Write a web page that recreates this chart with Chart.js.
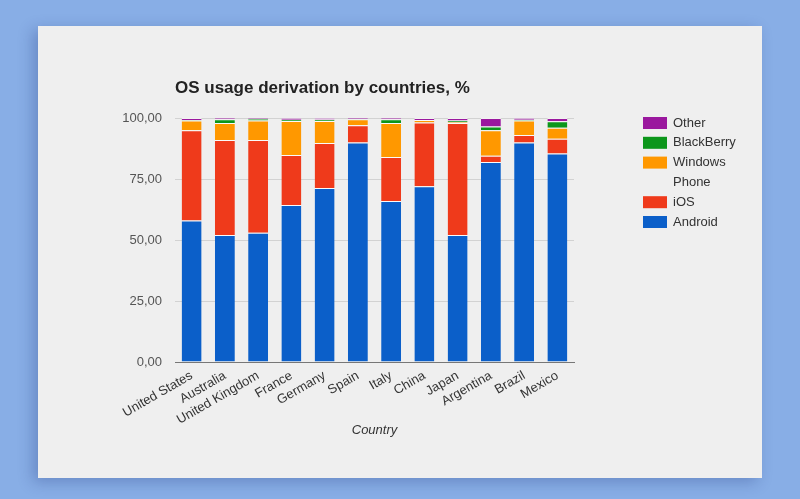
<!DOCTYPE html>
<html>
<head>
<meta charset="utf-8">
<script src="https://cdn.jsdelivr.net/npm/chart.js@4"></script>
<style>
  html, body { margin: 0; padding: 0; }
  body { width: 800px; height: 499px; background: #88aee6; position: relative; overflow: hidden; }
  .card { position: absolute; left: 38px; top: 26px; width: 724px; height: 452px; background: #efefef;
          box-shadow: -5px 4px 14px rgba(20, 40, 110, 0.28); }
</style>
</head>
<body>
<div class="card"><canvas id="myChart" width="724" height="452"></canvas></div>
<script>
const countries = ['United States', 'Australia', 'United Kingdom', 'France', 'Germany', 'Spain',
                   'Italy', 'China', 'Japan', 'Argentina', 'Brazil', 'Mexico'];
const android      = [58, 52, 53, 64.3, 71.3, 90, 66, 72, 52, 82, 90, 85.5];
const ios          = [37, 39, 38, 20.5, 18.5, 7, 18, 26.2, 46, 2.5, 3, 6];
const windowsPhone = [4, 7, 8, 14, 9, 2.5, 14, 1, 0.3, 10.5, 6, 4.5];
const blackBerry   = [0.2, 1.5, 0.7, 0.5, 0.6, 0.1, 1.5, 0, 0.7, 1.5, 0.3, 2.7];
const other        = [0.8, 0.5, 0.3, 0.7, 0.6, 0.4, 0.5, 0.8, 1, 3.5, 0.7, 1.3];
const yTicks = [0, 25, 50, 75, 100];

const FONT = "'Liberation Sans', Arial, sans-serif";

function bar(label, data, color) {
    return {
        label: label,
        data: data,
        backgroundColor: color,
        borderColor: 'rgba(255,255,255,0.7)',
        borderWidth: {top: 1, left: 0, right: 0, bottom: 0},
        barPercentage: 0.6,
        categoryPercentage: 1
    };
}

// title drawn at the left edge of the plot area
const titlePlugin = {
    id: 'leftTitle',
    afterDraw(chart) {
        const c = chart.ctx;
        c.save();
        c.font = 'bold 17px ' + FONT;
        c.fillStyle = '#222';
        c.textBaseline = 'middle';
        c.fillText('OS usage derivation by countries, %', chart.chartArea.left, 62);
        c.restore();
    }
};

// legend on the right, reversed, with wrapping
const legendPlugin = {
    id: 'sideLegend',
    afterDraw(chart) {
        const c = chart.ctx;
        const x = chart.chartArea.right + 69;
        let y = chart.chartArea.top + 5;
        c.save();
        c.font = '13px ' + FONT;
        c.textBaseline = 'middle';
        const sets = chart.data.datasets.slice().reverse();
        sets.forEach(ds => {
            c.fillStyle = ds.backgroundColor;
            c.fillRect(x, y - 6, 24, 12);
            c.fillStyle = '#333';
            const lines = ds.label === 'Windows Phone' ? ['Windows', 'Phone'] : [ds.label];
            lines.forEach(line => {
                c.fillText(line, x + 30, y);
                y += 19.8;
            });
        });
        c.restore();
    }
};

new Chart(document.getElementById('myChart'), {
    type: 'bar',
    data: {
        labels: countries,
        datasets: [
            bar('Android', android, '#0b5fc9'),
            bar('iOS', ios, '#ef3a1b'),
            bar('Windows Phone', windowsPhone, '#ff9800'),
            bar('BlackBerry', blackBerry, '#0c961b'),
            bar('Other', other, '#9a189e')
        ]
    },
    options: {
        responsive: false,
        animation: false,
        devicePixelRatio: 1,
        layout: { padding: { left: 0, right: 188, top: 92, bottom: 0 } },
        plugins: {
            legend: { display: false },
            title: { display: false },
            tooltip: { enabled: false }
        },
        scales: {
            x: {
                stacked: true,
                afterFit: s => { s.height = 116; },
                grid: { display: false, drawTicks: false },
                border: { color: '#777', width: 1 },
                ticks: {
                    color: '#333',
                    font: { family: FONT, size: 13 },
                    minRotation: 30,
                    maxRotation: 30,
                    autoSkip: false,
                    padding: 6
                },
                title: {
                    display: true,
                    text: 'Country',
                    color: '#333',
                    font: { family: FONT, size: 13, style: 'italic' },
                    padding: { top: 0, bottom: 40 }
                }
            },
            y: {
                stacked: true,
                min: 0,
                max: 100,
                afterFit: s => { s.width = 137; },
                afterBuildTicks: s => { s.ticks = yTicks.map(v => ({ value: v })); },
                grid: { color: '#d2d2d2', drawTicks: false },
                border: { display: false },
                ticks: {
                    color: '#555',
                    font: { family: FONT, size: 13 },
                    padding: 13,
                    callback: v => v.toFixed(2).replace('.', ',')
                }
            }
        }
    },
    plugins: [titlePlugin, legendPlugin]
});
</script>
</body>
</html>
